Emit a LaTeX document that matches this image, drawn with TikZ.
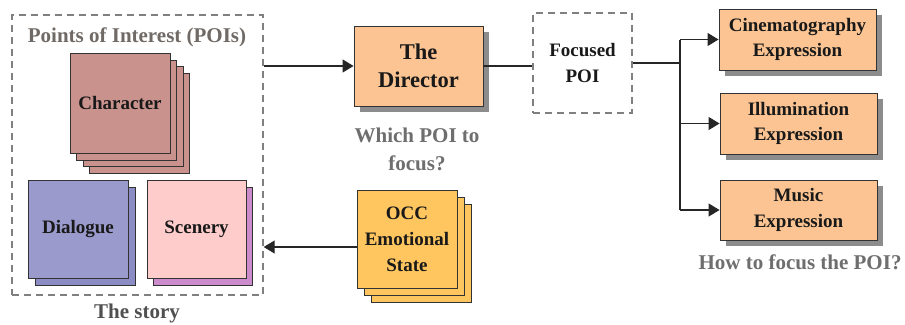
\documentclass[tikz,border=0pt]{standalone}
\usepackage{fontspec}
\setmainfont{Liberation Serif}
\usetikzlibrary{arrows.meta}
\definecolor{orangebox}{RGB}{251,196,146}
\definecolor{charcol}{RGB}{201,146,141}
\definecolor{dialcol}{RGB}{154,154,204}
\definecolor{dialback}{RGB}{140,140,196}
\definecolor{scencol}{RGB}{255,204,204}
\definecolor{scenback}{RGB}{204,140,204}
\definecolor{occcol}{RGB}{255,198,96}
\definecolor{greytext}{RGB}{110,110,110}
\definecolor{poitext}{RGB}{112,106,102}
\definecolor{storytext}{RGB}{80,80,80}
\definecolor{dashcol}{RGB}{128,128,128}
\definecolor{shadowcol}{RGB}{140,140,140}
\tikzset{
  boxtxt/.style={font=\fontsize{19}{25.5}\selectfont\bfseries, text=black!90, align=center},
  card/.style={draw=black!80, line width=0.9pt, inner sep=0pt, boxtxt},
  orangecard/.style={card, fill=orangebox},
  shadowbox/.style={fill=shadowcol, draw=none, inner sep=0pt},
  dashbox/.style={draw=dashcol, line width=1.4pt, dash pattern=on 7pt off 5pt, inner sep=0pt},
  label/.style={font=\fontsize{21}{28}\selectfont\bfseries, align=center},
  conn/.style={draw=black!85, line width=1.1pt},
  arr/.style={conn, -{Triangle[length=11pt,width=13pt]}}
}
\begin{document}
\begin{tikzpicture}[x=1pt,y=-1pt]
\useasboundingbox (0,0) rectangle (905,324);

% The story box
\node[dashbox, minimum width=251pt, minimum height=280pt] (story) at (137.5,155) {};
\node[label, text=poitext] (poititle) at (137,37) {Points of Interest (POIs)};
\node[label, text=storytext] (storylbl) at (137,313) {The story};

% Character stack
\node[card, fill=charcol, minimum width=100pt, minimum height=100pt] (ch3) at (139.5,123) {};
\node[card, fill=charcol, minimum width=100pt, minimum height=100pt] (ch2) at (133,116.5) {};
\node[card, fill=charcol, minimum width=100pt, minimum height=100pt] (ch1) at (126.5,110) {};
\node[card, fill=charcol, minimum width=100pt, minimum height=100pt] (char) at (120,103) {Character};

% Dialogue
\node[card, fill=dialback, minimum width=100pt, minimum height=98pt] (dialb) at (85,236) {};
\node[card, fill=dialcol, minimum width=100pt, minimum height=98pt] (dial) at (78,229) {Dialogue};

% Scenery
\node[card, fill=scenback, minimum width=99pt, minimum height=98pt] (scenb) at (202.5,236) {};
\node[card, fill=scencol, minimum width=99pt, minimum height=98pt] (scen) at (196.5,229) {Scenery};

% The Director
\node[shadowbox, minimum width=129pt, minimum height=80pt] (dirsh) at (424.5,72) {};
\node[orangecard, minimum width=129pt, minimum height=80pt, font=\fontsize{22.5}{28}\selectfont\bfseries] (dir) at (418.5,66) {The\\Director};
\node[label, text=greytext] (whichlbl) at (417,149) {Which POI to\\focus?};

% Focused POI
\node[dashbox, minimum width=99pt, minimum height=100pt, boxtxt, font=\fontsize{19}{27}\selectfont\bfseries] (foc) at (582.5,63) {Focused\\POI};

% Expressions
\node[shadowbox, minimum width=157pt, minimum height=61pt] (cinesh) at (803.5,45.5) {};
\node[orangecard, minimum width=157pt, minimum height=61pt] (cine) at (797.5,39.5) {Cinematography\\Expression};
\node[shadowbox, minimum width=157pt, minimum height=61pt] (illsh) at (804.5,129.5) {};
\node[orangecard, minimum width=157pt, minimum height=61pt] (ill) at (798.5,123.5) {Illumination\\Expression};
\node[shadowbox, minimum width=157pt, minimum height=60pt] (mush) at (804.5,216) {};
\node[orangecard, minimum width=157pt, minimum height=60pt] (mus) at (798.5,210) {Music\\Expression};
\node[label, text=greytext] (howlbl) at (800,262) {How to focus the POI?};

% OCC stack
\node[card, fill=occcol, minimum width=100pt, minimum height=98pt] (occ2) at (421,253) {};
\node[card, fill=occcol, minimum width=100pt, minimum height=98pt] (occ1) at (414,246) {};
\node[card, fill=occcol, minimum width=100pt, minimum height=98pt, font=\fontsize{19}{26}\selectfont\bfseries] (occ) at (407,239) {OCC\\Emotional\\State};

% connectors
\coordinate (j) at (680,63);
\coordinate (occout) at ([yshift=-8pt]occ.west);
\draw[arr] (story.east |- dir.west) -- (dir.west);
\draw[conn] (dir.east) -- (foc.west |- dir.east);
\draw[conn] (foc.east) -- (j);
\draw[conn] (j |- cine.west) -- (j |- mus.west);
\draw[arr] (j |- cine.west) -- (cine.west);
\draw[arr] (j |- ill.west) -- (ill.west);
\draw[arr] (j |- mus.west) -- (mus.west);
\draw[arr] (occout) -- (story.east |- occout);
\end{tikzpicture}
\end{document}
